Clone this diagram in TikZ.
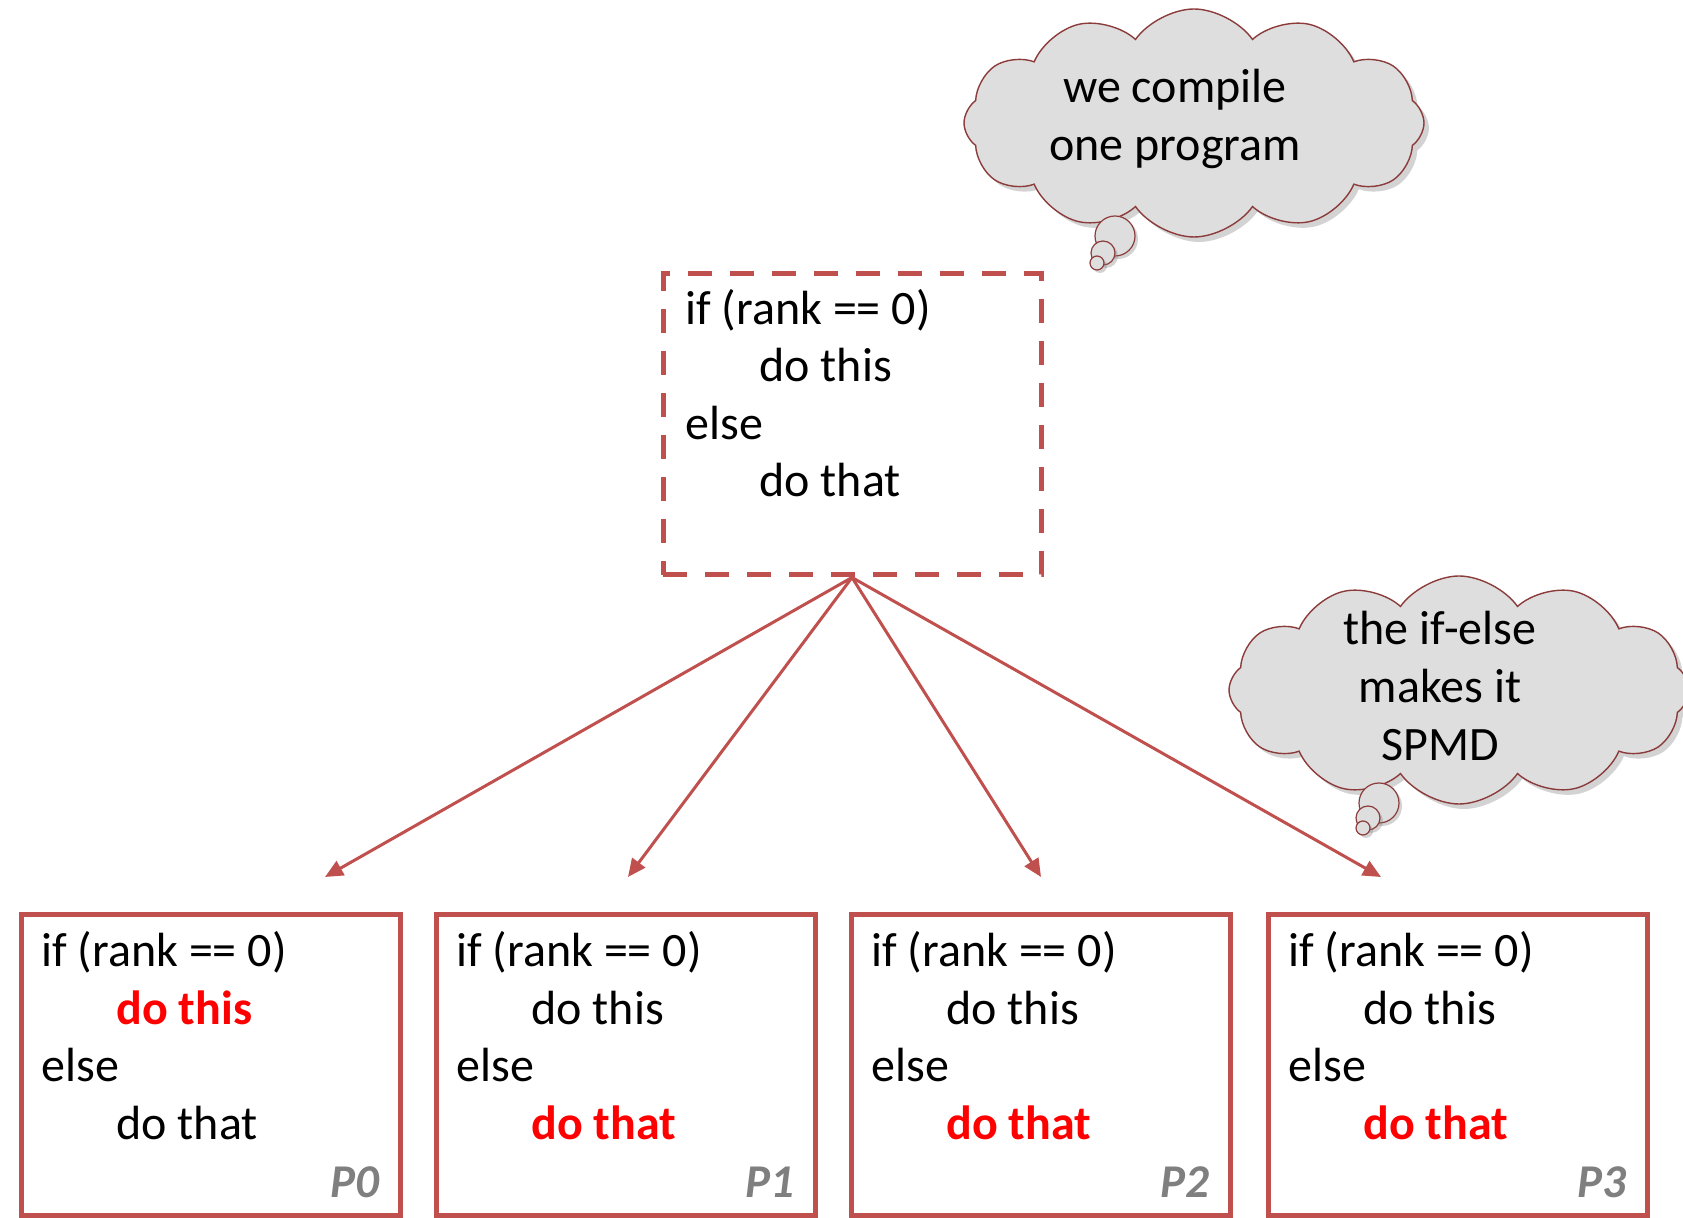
\documentclass[tikz,border=0pt]{standalone}
\usepackage{fontspec}
\setmainfont{Carlito}
\usetikzlibrary{arrows.meta,shapes.symbols,shadows}
\definecolor{boxred}{HTML}{C0504D}
\definecolor{cloudline}{HTML}{8C3B3B}
\definecolor{cloudfill}{HTML}{DEDEDE}
\definecolor{labelgray}{HTML}{7F7F7F}
\tikzset{
  codeline/.style={anchor=base west, inner sep=0pt, font=\fontsize{24}{29}\selectfont},
  hotline/.style={codeline, text=red, font=\fontsize{24}{29}\selectfont\bfseries},
  procbox/.style={draw=boxred, line width=2.5pt, minimum width=189.5pt, minimum height=150pt, inner sep=0pt},
  srcbox/.style={draw=boxred, line width=2.5pt, dash pattern=on 12pt off 9pt, minimum width=189pt, minimum height=150.5pt, inner sep=0pt},
  plabel/.style={anchor=base east, inner sep=0pt, text=labelgray, font=\fontsize{23.5}{28}\selectfont\bfseries\itshape},
  fan/.style={draw=boxred, line width=1.5pt, -{Triangle[length=9pt,width=8pt]}},
  thought/.style={cloud, cloud puffs=12, cloud puff arc=110, aspect=2, draw=cloudline, line width=0.7pt, fill=cloudfill,
    minimum width=230pt, minimum height=114pt, inner sep=0pt,
    drop shadow={shadow xshift=2.5pt, shadow yshift=-2.5pt, opacity=0.35, fill=gray}},
  bubble/.style={circle, draw=cloudline, line width=0.6pt, fill=cloudfill, inner sep=0pt,
    drop shadow={shadow xshift=1.5pt, shadow yshift=-1.5pt, opacity=0.35, fill=gray}},
  saying/.style={align=center, inner sep=0pt, font=\fontsize{24}{29}\selectfont}
}
\begin{document}
\begin{tikzpicture}[x=0.5pt, y=-0.5pt]
\useasboundingbox (0,0) rectangle (1683,1218);

% the single source program
\node[srcbox] (src) at (852,424.5) {};
\node[codeline] (s1) at (685,325) {if (rank == 0)};
\node[codeline] (s2) at (759,382) {do this};
\node[codeline] (s3) at (685,440) {else};
\node[codeline] (s4) at (759,497) {do that};

% arrow ends above the process boxes
\coordinate (t0) at (325,877);
\coordinate (t1) at (628,877);
\coordinate (t2) at (1041,877);
\coordinate (t3) at (1381,877);
\foreach \t in {t0,t1,t2,t3}
  \draw[fan] (src.south) -- (\t);

% process P0
\node[procbox] (p0) at (210.5,1065) {};
\node[codeline] (p0a) at (41,967) {if (rank == 0)};
\node[hotline] (p0b) at (116,1025) {do this};
\node[codeline] (p0c) at (41,1082) {else};
\node[codeline] (p0d) at (116,1140) {do that};
\node[plabel] (p0l) at (380,1197) {P0};

% process P1
\node[procbox] (p1) at (626,1065) {};
\node[codeline] (p1a) at (456,967) {if (rank == 0)};
\node[codeline] (p1b) at (531,1025) {do this};
\node[codeline] (p1c) at (456,1082) {else};
\node[hotline] (p1d) at (531,1140) {do that};
\node[plabel] (p1l) at (795,1197) {P1};

% process P2
\node[procbox] (p2) at (1041,1065) {};
\node[codeline] (p2a) at (871,967) {if (rank == 0)};
\node[codeline] (p2b) at (946,1025) {do this};
\node[codeline] (p2c) at (871,1082) {else};
\node[hotline] (p2d) at (946,1140) {do that};
\node[plabel] (p2l) at (1210,1197) {P2};

% process P3
\node[procbox] (p3) at (1458,1065) {};
\node[codeline] (p3a) at (1288,967) {if (rank == 0)};
\node[codeline] (p3b) at (1363,1025) {do this};
\node[codeline] (p3c) at (1288,1082) {else};
\node[hotline] (p3d) at (1363,1140) {do that};
\node[plabel] (p3l) at (1627,1197) {P3};

% thought cloud: compile
\node[thought] (c1) at (1194,123) {};
\node[saying] (c1t) at (1175,119) {we compile\\one program};
\node[bubble, minimum size=20pt] (c1b1) at (1115,236) {};
\node[bubble, minimum size=12pt] (c1b2) at (1103,253) {};
\node[bubble, minimum size=7pt] (c1b3) at (1097,263) {};

% thought cloud: SPMD
\node[thought] (c2) at (1459,690) {};
\node[saying] (c2t) at (1440,686) {the if-else\\makes it\\SPMD};
\node[bubble, minimum size=20pt] (c2b1) at (1379,803) {};
\node[bubble, minimum size=12pt] (c2b2) at (1368,818) {};
\node[bubble, minimum size=7pt] (c2b3) at (1363,828) {};
\end{tikzpicture}
\end{document}
